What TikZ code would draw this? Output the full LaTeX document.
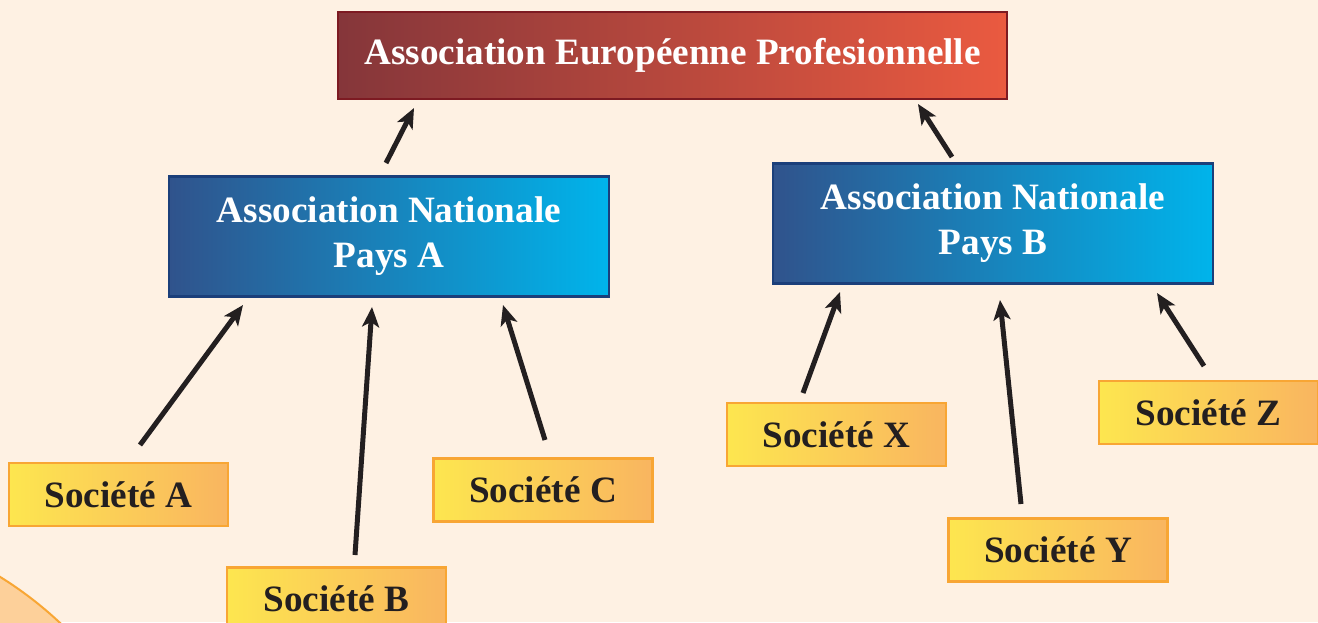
\documentclass[tikz,border=0pt]{standalone}
\usepackage{fontspec}
\setmainfont{Liberation Serif}
\usetikzlibrary{arrows.meta}
\definecolor{bg}{HTML}{FEF1E3}
\definecolor{redL}{HTML}{85363A}
\definecolor{redR}{HTML}{EA5A40}
\definecolor{redB}{HTML}{7D1A22}
\definecolor{bluL}{HTML}{30538C}
\definecolor{bluR}{HTML}{00B4EB}
\definecolor{bluB}{HTML}{1B3F7A}
\definecolor{yelL}{HTML}{FDE64F}
\definecolor{yelR}{HTML}{F9B560}
\definecolor{yelB}{HTML}{F8A634}
\definecolor{arcF}{HTML}{FDD09A}
\definecolor{txt}{HTML}{231F20}
\tikzset{
  box/.style={draw, line width=1.2pt, inner sep=0pt, align=center,
    font=\fontsize{18.6pt}{22.5pt}\selectfont\bfseries},
  topbox/.style={box, draw=redB, left color=redL, right color=redR, text=white,
    minimum width=334.5pt, minimum height=43.5pt},
  natbox/.style={box, draw=bluB, left color=bluL, right color=bluR, text=white,
    minimum width=220pt, minimum height=60pt},
  socbox/.style={box, draw=yelB, left color=yelL, right color=yelR, text=txt,
    minimum width=109.5pt, minimum height=31.5pt},
  arr/.style={line width=2.5pt, draw=txt, -{Stealth[length=10pt, width=8.5pt, inset=2.5pt]}}
}
\begin{document}
\begin{tikzpicture}[x=0.5pt, y=-0.5pt]
\useasboundingbox (0,0) rectangle (1318,622);
\clip (0,0) rectangle (1318,622);
\fill[bg] (0,0) rectangle (1318,622);
\filldraw[fill=arcF, draw=yelB, line width=1pt] (-200,900) circle[radius=380];

\node[topbox] (eu) at (672.5,55.5) {Association Européenne Profesionnelle};
\node[natbox] (pa) at (389,236.5) {Association Nationale\\Pays A};
\node[natbox] (pb) at (993,223.5) {Association Nationale\\Pays B};
\node[socbox] (sa) at (118.5,494.5) {Société A};
\node[socbox] (sb) at (336.5,599) {Société B};
\node[socbox] (sc) at (543,490) {Société C};
\node[socbox] (sx) at (836.5,434.5) {Société X};
\node[socbox] (sy) at (1058,550) {Société Y};
\node[socbox] (sz) at (1208.5,412.5) {Société Z};

\coordinate (paS) at (386,163);  \coordinate (euA) at (414,108);
\coordinate (pbS) at (952,157);  \coordinate (euB) at (918,104);
\coordinate (saS) at (140,445);  \coordinate (paA) at (243,305);
\coordinate (sbS) at (355,555);  \coordinate (paB) at (372,307);
\coordinate (scS) at (545,440);  \coordinate (paC) at (503,305);
\coordinate (sxS) at (803,393);  \coordinate (pbX) at (840,292);
\coordinate (syS) at (1021,504); \coordinate (pbY) at (1000,300);
\coordinate (szS) at (1204,366); \coordinate (pbZ) at (1157,293);

\draw[arr] (paS) -- (euA);
\draw[arr] (pbS) -- (euB);
\draw[arr] (saS) -- (paA);
\draw[arr] (sbS) -- (paB);
\draw[arr] (scS) -- (paC);
\draw[arr] (sxS) -- (pbX);
\draw[arr] (syS) -- (pbY);
\draw[arr] (szS) -- (pbZ);
\end{tikzpicture}
\end{document}
